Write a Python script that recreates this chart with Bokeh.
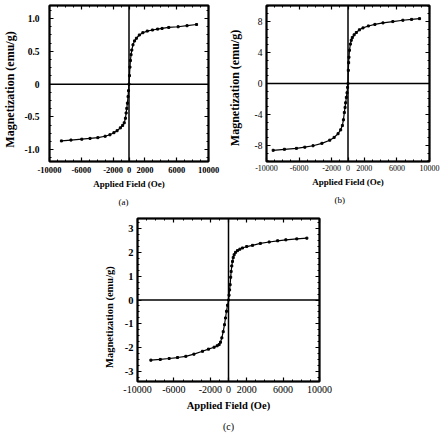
from bokeh.plotting import figure
from bokeh.layouts import column, row
from bokeh.models import (Range1d, FixedTicker, LinearAxis, Span, Title, Spacer,
                          CustomLabelingPolicy)
from bokeh.embed import file_html
from bokeh.resources import INLINE

# ---- magnetization loops (field in Oe, magnetization in emu/g) ----
field_a = [-8500, -7300, -5940, -4900, -3920, -3000, -2400, -1900, -1500, -1090,
           -800, -600, -450, -360, -280, -200, -120, -60, 0,
           60, 120, 180, 260, 350, 500, 700, 930, 1300, 1740, 2300, 2950,
           3600, 4160, 5000, 6180, 7300, 8500]
mag_a = [-0.866, -0.853, -0.84, -0.828, -0.816, -0.795, -0.772, -0.74, -0.71, -0.667,
         -0.63, -0.59, -0.52, -0.44, -0.37, -0.29, -0.19, -0.10, 0.0,
         0.13, 0.26, 0.36, 0.45, 0.52, 0.60, 0.66, 0.70, 0.75, 0.785, 0.81, 0.826,
         0.84, 0.85, 0.865, 0.876, 0.892, 0.91]

field_b = [-9180, -7800, -6330, -5300, -4290, -3200, -2240, -1700, -1220, -900,
           -690, -560, -450, -360, -290, -200, -120, -50, 0,
           40, 80, 120, 180, 290, 400, 530, 750, 1020, 1400, 1840, 2500,
           3300, 4290, 5500, 6730, 7800, 8780]
mag_b = [-8.65, -8.52, -8.4, -8.25, -8.06, -7.75, -7.34, -6.98, -6.5, -6.0,
         -5.44, -4.7, -3.76, -3.1, -2.5, -1.8, -1.2, -0.5, 0.0,
         1.7, 2.7, 3.4, 4.3, 5.1, 5.6, 5.95, 6.3, 6.6, 6.95, 7.2, 7.45,
         7.65, 7.85, 8.02, 8.19, 8.3, 8.4]

field_c = [-8530, -7500, -6520, -5600, -4690, -3800, -2860, -2200, -1580, -1250,
           -1030, -880, -730, -580, -440, -330, -220, -110, 0,
           60, 120, 180, 240, 290, 360, 440, 520, 620, 780, 990, 1250, 1540,
           2000, 2640, 3500, 4470, 5400, 6300, 7500, 8610]
mag_c = [-2.51, -2.48, -2.44, -2.40, -2.35, -2.26, -2.14, -2.05, -1.97, -1.91,
         -1.86, -1.76, -1.58, -1.32, -1.03, -0.75, -0.47, -0.22, 0.0,
         0.2, 0.42, 0.64, 0.95, 1.19, 1.42, 1.61, 1.77, 1.89, 1.99, 2.06, 2.12, 2.17,
         2.23, 2.28, 2.36, 2.42, 2.47, 2.51, 2.55, 2.58]

# ---- axis ticks and labels ----
x_ticks = [-10000, -6000, -2000, 0, 2000, 6000, 10000]
x_tick_labels = ["-10000", "-6000", "-2000", "0", "2000", "6000", "10000"]
y_ticks_a = [-1.0, -0.5, 0.0, 0.5, 1.0]
y_tick_labels_a = ["-1.0", "-0.5", "0", "0.5", "1.0"]
y_ticks_b = [-8, -4, 0, 4, 8]
y_tick_labels_b = ["-8", "-4", "0", "4", "8"]
y_ticks_c = [-3, -2, -1, 0, 1, 2, 3]
y_tick_labels_c = ["-3", "-2", "-1", "0", "1", "2", "3"]

x_title = "Applied Field (Oe)"
y_title = "Magnetization (emu/g)"
captions = ["(a)", "(b)", "(c)"]

FONT = "Liberation Serif"
NBSP = "\u00a0"

# opposite-side axes keep their ticks but render no labels
NO_LABELS = CustomLabelingPolicy(code="""
    for (let i = 0; i < indices.size; i++) { indices.unset(i) }
    return indices
""")


def frange(lo, hi, step):
    out, v = [], lo
    while v <= hi + 1e-9:
        out.append(round(v, 6))
        v += step
    return out


def make_panel(field, mag, y_lo, y_hi, y_ticks, y_labels, y_minor_step, caption,
               width, height, borders, s):
    left, right, top, bottom = borders
    p = figure(width=width, height=height,
               x_range=Range1d(-10000, 10000), y_range=Range1d(y_lo, y_hi),
               output_backend="svg", toolbar_location=None,
               min_border_left=left, min_border_right=right,
               min_border_top=top, min_border_bottom=bottom,
               background_fill_color="white", border_fill_color="white")
    p.xgrid.visible = False
    p.ygrid.visible = False
    p.outline_line_color = "black"
    p.outline_line_width = 2

    xt = FixedTicker(ticks=x_ticks, minor_ticks=frange(-10000, 10000, 1000))
    yt = FixedTicker(ticks=y_ticks, minor_ticks=frange(y_ticks[0] - 2 * y_minor_step,
                                                       y_ticks[-1] + 2 * y_minor_step,
                                                       y_minor_step))

    xa = p.xaxis[0]
    ya = p.yaxis[0]
    xa.ticker = xt
    ya.ticker = yt
    xa.major_label_overrides = {t: l for t, l in zip(x_ticks, x_tick_labels)}
    ya.major_label_overrides = {t: l for t, l in zip(y_ticks, y_labels)}
    xa.axis_label = x_title
    # trailing no-break spaces nudge the rotated title towards the bottom
    ya.axis_label = y_title + NBSP * s["ylabel_pad"]

    xa2 = LinearAxis(ticker=xt, major_label_policy=NO_LABELS)
    ya2 = LinearAxis(ticker=yt, major_label_policy=NO_LABELS)
    p.add_layout(xa2, "above")
    p.add_layout(ya2, "right")
    for ax in (xa2, ya2):
        ax.major_label_text_font_size = "1px"
        ax.major_label_standoff = 0

    for ax in (xa, ya, xa2, ya2):
        ax.axis_line_color = "black"
        ax.axis_line_width = 1.5
        ax.major_tick_in = 4
        ax.major_tick_out = 0
        ax.minor_tick_in = 2
        ax.minor_tick_out = 0
        ax.major_tick_line_width = 1.2
        ax.minor_tick_line_width = 1
        ax.major_label_text_font = FONT
        ax.major_label_text_color = "black"
        ax.axis_label_text_font = FONT
        ax.axis_label_text_color = "black"
        ax.axis_label_text_font_style = "bold"

    xa.major_label_text_font_size = s["xtick_size"]
    xa.major_label_text_font_style = s["xtick_style"]
    xa.major_label_standoff = s["xtick_standoff"]
    xa.axis_label_text_font_size = s["xlabel_size"]
    xa.axis_label_standoff = s["xlabel_standoff"]

    ya.major_label_text_font_size = s["ytick_size"]
    ya.major_label_text_font_style = s["ytick_style"]
    ya.major_label_standoff = s["ytick_standoff"]
    ya.axis_label_text_font_size = s["ylabel_size"]
    ya.axis_label_standoff = s["ylabel_standoff"]

    # zero lines through the origin
    p.add_layout(Span(location=0, dimension="height", line_color="black", line_width=1.5))
    p.add_layout(Span(location=0, dimension="width", line_color="black", line_width=1.5))

    p.line(field, mag, line_color="black", line_width=1.2)
    p.scatter(field, mag, marker="square", size=2, color="black")

    cap = Title(text=caption, align=s["cap_align"], text_font=FONT,
                text_font_size=s["cap_size"], text_font_style="normal",
                text_color="black", offset=s["cap_offset"], standoff=s["cap_standoff"])
    p.add_layout(cap, "below")
    return p


style_a = dict(xtick_size="8.5px", xtick_style="bold", xtick_standoff=5,
               xlabel_size="9px", xlabel_standoff=3,
               ytick_size="9.5px", ytick_style="bold", ytick_standoff=10,
               ylabel_size="12px", ylabel_standoff=4, ylabel_pad=4,
               cap_size="9px", cap_align="left", cap_offset=69, cap_standoff=7)
style_b = dict(xtick_size="8px", xtick_style="normal", xtick_standoff=3,
               xlabel_size="9px", xlabel_standoff=3,
               ytick_size="9.5px", ytick_style="normal", ytick_standoff=4,
               ylabel_size="12px", ylabel_standoff=10, ylabel_pad=3,
               cap_size="9px", cap_align="left", cap_offset=68, cap_standoff=7)
style_c = dict(xtick_size="10px", xtick_style="normal", xtick_standoff=4,
               xlabel_size="10.5px", xlabel_standoff=4,
               ytick_size="10.5px", ytick_style="bold", ytick_standoff=4,
               ylabel_size="10.5px", ylabel_standoff=7, ylabel_pad=13,
               cap_size="10px", cap_align="center", cap_offset=0, cap_standoff=11)

pa = make_panel(field_a, mag_a, -1.18, 1.2, y_ticks_a, y_tick_labels_a, 0.125,
                captions[0], 220, 210, (43, 12, 5, 47), style_a)
pb = make_panel(field_b, mag_b, -10.1, 10.1, y_ticks_b, y_tick_labels_b, 1,
                captions[1], 226, 210, (46, 17, 5, 45), style_b)
pc = make_panel(field_c, mag_c, -3.4, 3.4, y_ticks_c, y_tick_labels_c, 0.25,
                captions[2], 244, 227, (42, 20, 8, 55), style_c)

layout = column(row(pa, pb), row(Spacer(width=95, height=227), pc))

open("out.html", "w").write(file_html(layout, INLINE))
